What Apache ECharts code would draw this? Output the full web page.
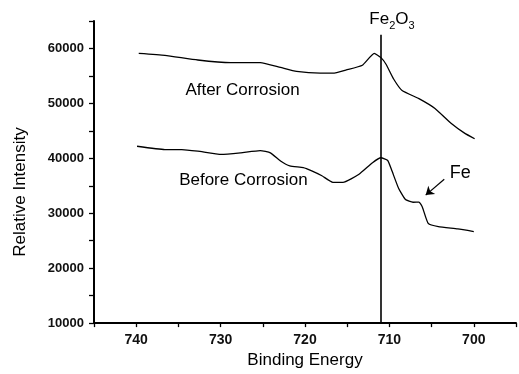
<!DOCTYPE html>
<html>
<head>
<meta charset="utf-8">
<script src="https://cdn.jsdelivr.net/npm/echarts@6/dist/echarts.min.js"></script>
<style>
  html, body { margin: 0; padding: 0; background: #fff; }
  #xpsChart { width: 519px; height: 374px; }
</style>
</head>
<body>
<div id="xpsChart"></div>
<script>
  // binding energy (eV) / intensity
  const energyAfter = [739.7, 736.6, 732.7, 728.8, 725.3, 722.9, 721.0, 718.2, 716.7, 715.1, 713.2, 711.8, 711.0, 710.4, 709.5, 708.5, 706.5, 704.6, 702.7, 701.1, 699.9];
  const intensityAfter = [59100, 58750, 57900, 57430, 57430, 56540, 55820, 55500, 55500, 56100, 56950, 59100, 58330, 57130, 54440, 52350, 50860, 49070, 46380, 44590, 43570];

  const energyBefore = [739.9, 736.6, 734.6, 732.7, 729.9, 727.6, 725.3, 724.1, 722.9, 721.8, 720.2, 719.2, 718.0, 716.7, 715.5, 713.6, 712.0, 711.0, 710.2, 709.7, 708.9, 708.1, 707.2, 706.5, 706.1, 705.4, 704.2, 701.9, 700.0];
  const intensityBefore = [42200, 41600, 41600, 41300, 40700, 41000, 41400, 41000, 39520, 38620, 38320, 37720, 36830, 35630, 35630, 37110, 39210, 40100, 39610, 37720, 34500, 32500, 32000, 32040, 31150, 28150, 27560, 27150, 26670];

  const seriesNames = ['After Corrosion', 'Before Corrosion'];
  const xTicks = { min: 695, max: 745, step: 5, labelStep: 10 };
  const yTicks = { min: 10000, max: 65000, step: 5000, labelStep: 10000 };

  // Fe2O3 reference line and annotations
  const fe2o3Line = { energy: 711, from: 10000, to: 62500 };
  const afterLabelAt = [727.4, 52300];
  const beforeLabelAt = [727.3, 36000];
  const feLabelAt = [701.6, 37400];
  const feArrow = [[703.5, 36200], [705.7, 33300]];

  const font = '"Liberation Sans", Arial, sans-serif';

  function zip(xs, ys) {
    return xs.map((x, i) => [x, ys[i]]);
  }

  let chart = echarts.init(document.getElementById('xpsChart'));

  let option = {
    animation: false,
    grid: { left: 94, top: 21, right: 1, bottom: 46 },
    xAxis: {
      type: 'value',
      min: xTicks.min,
      max: xTicks.max,
      interval: xTicks.step,
      inverse: true,
      name: 'Binding Energy',
      nameLocation: 'middle',
      nameGap: 27,
      nameTextStyle: { fontSize: 17, fontFamily: font, color: '#000' },
      axisLine: { onZero: false, lineStyle: { color: '#000', width: 2 } },
      axisTick: { length: 4, lineStyle: { color: '#000', width: 1.3 } },
      axisLabel: {
        fontSize: 14,
        fontWeight: 'bold',
        fontFamily: font,
        color: '#111',
        margin: 10,
        formatter: v => (v % xTicks.labelStep === 0 ? String(v) : '')
      },
      splitLine: { show: false }
    },
    yAxis: {
      type: 'value',
      min: yTicks.min,
      max: yTicks.max,
      interval: yTicks.step,
      axisLine: { show: true, lineStyle: { color: '#000', width: 2 } },
      axisTick: { show: true, length: 5, lineStyle: { color: '#000', width: 1.3 } },
      axisLabel: {
        fontSize: 13,
        fontWeight: 'bold',
        fontFamily: font,
        color: '#111',
        margin: 10,
        formatter: v => (v % yTicks.labelStep === 0 ? String(v) : '')
      },
      splitLine: { show: false }
    },
    graphic: [{
      type: 'text',
      x: 20,
      y: 192,
      rotation: Math.PI / 2,
      style: {
        text: 'Relative Intensity',
        fontSize: 17,
        fontFamily: font,
        fill: '#000',
        align: 'center',
        verticalAlign: 'middle'
      }
    }],
    series: [{
      name: seriesNames[0],
      type: 'line',
      data: zip(energyAfter, intensityAfter),
      showSymbol: false,
      smooth: 0.15,
      lineStyle: { color: '#000', width: 1.3 },
      markLine: {
        silent: true,
        symbol: 'none',
        label: { show: false },
        lineStyle: { color: '#000', width: 1.6, type: 'solid' },
        data: [[{ coord: [fe2o3Line.energy, fe2o3Line.from] }, { coord: [fe2o3Line.energy, fe2o3Line.to] }]]
      },
      markPoint: {
        silent: true,
        symbol: 'circle',
        symbolSize: 0,
        data: [{
          name: seriesNames[0],
          coord: afterLabelAt,
          label: { show: true, position: 'inside', formatter: '{b}', fontSize: 17, fontFamily: font, color: '#000' }
        }, {
          name: 'Fe2O3',
          coord: [fe2o3Line.energy, fe2o3Line.to],
          label: {
            show: true,
            position: 'top',
            distance: 3,
            offset: [11, 0],
            formatter: '{m|Fe}{s|2}{m|O}{s|3}',
            rich: {
              m: { fontSize: 17, fontFamily: font, color: '#000', lineHeight: 21, verticalAlign: 'top' },
              s: { fontSize: 11, fontFamily: font, color: '#000', lineHeight: 21, verticalAlign: 'bottom' }
            }
          }
        }]
      }
    }, {
      name: seriesNames[1],
      type: 'line',
      data: zip(energyBefore, intensityBefore),
      showSymbol: false,
      smooth: 0.15,
      lineStyle: { color: '#000', width: 1.3 },
      markLine: {
        silent: true,
        symbol: ['none', 'arrow'],
        symbolSize: 8,
        label: { show: false },
        lineStyle: { color: '#000', width: 1.2, type: 'solid' },
        data: [[{ coord: feArrow[0] }, { coord: feArrow[1] }]]
      },
      markPoint: {
        silent: true,
        symbol: 'circle',
        symbolSize: 0,
        data: [{
          name: seriesNames[1],
          coord: beforeLabelAt,
          label: { show: true, position: 'inside', formatter: '{b}', fontSize: 17, fontFamily: font, color: '#000' }
        }, {
          name: 'Fe',
          coord: feLabelAt,
          label: { show: true, position: 'inside', formatter: '{b}', fontSize: 18, fontFamily: font, color: '#000' }
        }]
      }
    }]
  };

  chart.setOption(option);
</script>
</body>
</html>
